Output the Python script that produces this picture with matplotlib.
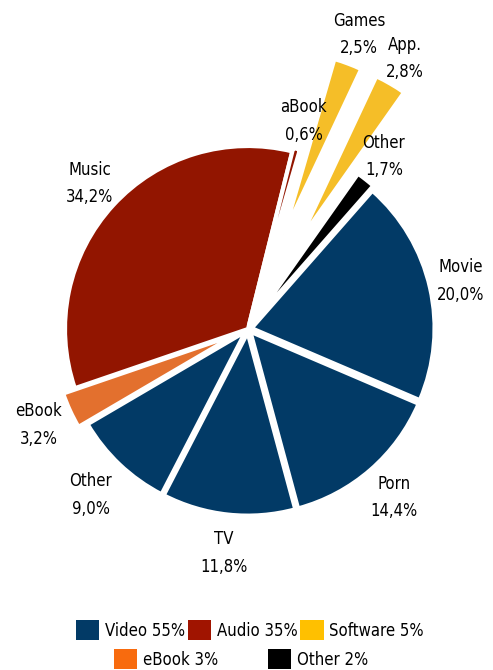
import numpy as np
import matplotlib.pyplot as plt
from matplotlib.patches import Patch

plt.rcParams['font.family'] = ['DejaVu Sans']
plt.rcParams['font.stretch'] = 'condensed'

# slices, counterclockwise starting from the top
names = ["Music", "eBook", "Other", "TV", "Porn", "Movie", "Other", "App.", "Games", "aBook"]
shares = [34.2, 3.2, 9.0, 11.8, 14.4, 20.0, 1.7, 2.8, 2.5, 0.6]
pct_text = ["34,2%", "3,2%", "9,0%", "11,8%", "14,4%", "20,0%", "1,7%", "2,8%", "2,5%", "0,6%"]
groups = ["audio", "ebook", "video", "video", "video", "video", "other", "soft", "soft", "audio"]

pie_col = {"video": "#023a66", "audio": "#921500", "soft": "#f5be28",
           "ebook": "#e3702e", "other": "#000000"}
leg_names = ["Video 55%", "Audio 35%", "Software 5%"]
leg_cols = ["#023a66", "#a01400", "#ffc000"]
leg2_names = ["eBook 3%", "Other 2%"]
leg2_cols = ["#f86b0e", "#000000"]

explode = [0.0, 0.07, 0.02, 0.02, 0.02, 0.02, 0.04, 0.55, 0.55, 0.02]
lab_dist = [1.175, 1.19, 1.23, 1.21, 1.2, 1.17, 1.16, 1.16, 1.17, 1.155]

fig = plt.figure(figsize=(4.93, 6.70), dpi=100)
ax = fig.add_axes([0, 0, 1, 1])

wedges, _ = ax.pie(shares, startangle=76, explode=explode,
                   colors=[pie_col[g] for g in groups],
                   wedgeprops=dict(edgecolor="white", linewidth=3))

for w, n, p, d in zip(wedges, names, pct_text, lab_dist):
    a = np.deg2rad((w.theta1 + w.theta2) / 2)
    cx, cy = w.center
    ax.text(cx + d * w.r * np.cos(a), cy + d * w.r * np.sin(a), n + "\n" + p,
            ha="center", va="center", fontsize=12, linespacing=1.7)

ax.set_xlim(-248 / 183, 245 / 183)
ax.set_ylim(-341 / 183, 329 / 183)
ax.set_aspect("auto")
ax.axis("off")

h1 = [Patch(facecolor=c) for c in leg_cols]
fig.legend(h1, leg_names, loc="center", bbox_to_anchor=(250 / 493, 1 - 630 / 670),
           ncol=3, frameon=False, fontsize=12, handlelength=1.4, handleheight=1.4,
           handletextpad=0.35, columnspacing=0.15, borderpad=0)
h2 = [Patch(facecolor=c) for c in leg2_cols]
fig.legend(h2, leg2_names, loc="center", bbox_to_anchor=(241 / 493, 1 - 659 / 670),
           ncol=2, frameon=False, fontsize=12, handlelength=1.4, handleheight=1.4,
           handletextpad=0.35, columnspacing=3.0, borderpad=0)

fig.savefig("out.png", dpi=100)
